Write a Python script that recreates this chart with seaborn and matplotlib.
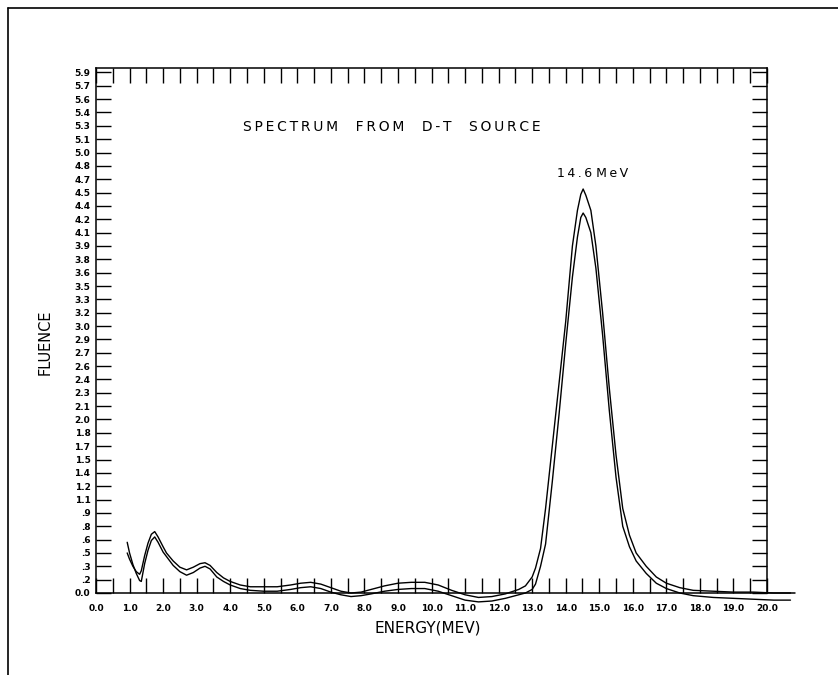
import numpy as np
import matplotlib
matplotlib.use("Agg")
import matplotlib.pyplot as plt
from matplotlib.lines import Line2D
import seaborn as sns

# Values (MeV, fluence)
energy = [0.93, 1.0, 1.1, 1.2, 1.3, 1.35, 1.45, 1.55, 1.65, 1.75, 1.85, 2.0, 2.1, 2.3,
          2.5, 2.7, 2.9, 3.1, 3.25, 3.4, 3.6, 3.8, 4.0, 4.3, 4.6, 5.0, 5.4, 5.8, 6.1,
          6.4, 6.7, 7.0, 7.3, 7.6, 7.9, 8.2, 8.6, 9.0, 9.4, 9.8, 10.2, 10.6, 11.0, 11.4,
          11.8, 12.2, 12.6, 12.8, 13.0, 13.1, 13.25, 13.4, 13.6, 13.8, 14.0, 14.2,
          14.35, 14.45, 14.52, 14.6, 14.75, 14.9, 15.1, 15.3, 15.5, 15.7, 15.9, 16.1,
          16.4, 16.7, 17.0, 17.4, 17.8, 18.4, 19.0, 19.6, 20.2, 20.7]

fluence_outer = [0.45, 0.38, 0.30, 0.24, 0.21, 0.25, 0.42, 0.56, 0.66, 0.69, 0.63, 0.52,
                 0.45, 0.36, 0.29, 0.26, 0.29, 0.33, 0.34, 0.31, 0.23, 0.17, 0.13, 0.09,
                 0.07, 0.07, 0.07, 0.09, 0.11, 0.12, 0.10, 0.06, 0.02, 0.00, 0.01, 0.04,
                 0.08, 0.11, 0.12, 0.12, 0.09, 0.03, -0.02, -0.05, -0.04, -0.01, 0.04,
                 0.08, 0.18, 0.28, 0.50, 0.95, 1.65, 2.35, 3.05, 3.90, 4.30, 4.48, 4.54,
                 4.47, 4.30, 3.90, 3.15, 2.30, 1.55, 0.95, 0.65, 0.45, 0.30, 0.18, 0.11,
                 0.06, 0.03, 0.02, 0.01, 0.01, 0.00, 0.00]

fluence_inner = [0.57, 0.45, 0.32, 0.22, 0.14, 0.13, 0.33, 0.48, 0.59, 0.63, 0.57, 0.46,
                 0.41, 0.31, 0.24, 0.20, 0.23, 0.28, 0.30, 0.27, 0.18, 0.13, 0.09, 0.05,
                 0.03, 0.02, 0.02, 0.04, 0.06, 0.07, 0.05, 0.01, -0.02, -0.04, -0.03,
                 -0.01, 0.02, 0.04, 0.05, 0.05, 0.02, -0.03, -0.08, -0.10, -0.09, -0.06,
                 -0.02, 0.00, 0.04, 0.10, 0.30, 0.55, 1.25, 2.00, 2.80, 3.55, 4.00, 4.22,
                 4.27, 4.22, 4.05, 3.65, 2.90, 2.05, 1.30, 0.75, 0.52, 0.36, 0.22, 0.11,
                 0.05, 0.00, -0.03, -0.05, -0.06, -0.07, -0.08, -0.08]

x_tick_labels = ["0.0", "1.0", "2.0", "3.0", "4.0", "5.0", "6.0", "7.0", "8.0", "9.0",
                 "10.0", "11.0", "12.0", "13.0", "14.0", "15.0", "16.0", "17.0", "18.0",
                 "19.0", "20.0"]
y_tick_labels = ["0.0", ".2", ".3", ".5", ".6", ".8", ".9", "1.1", "1.2", "1.4", "1.5",
                 "1.7", "1.8", "2.0", "2.1", "2.3", "2.4", "2.6", "2.7", "2.9", "3.0",
                 "3.2", "3.3", "3.5", "3.6", "3.8", "3.9", "4.1", "4.2", "4.4", "4.5",
                 "4.7", "4.8", "5.0", "5.1", "5.3", "5.4", "5.6", "5.7", "5.9"]


def spaced(word):
    # plotter lettering is widely spaced
    return "\u2009".join(word)


sns.set_theme(style="white")
plt.rcParams['font.family'] = ['DejaVu Sans']

fig = plt.figure(figsize=(8.38, 6.75), dpi=100)
ax = fig.add_axes([96 / 838, 82 / 675, 671 / 838, 525 / 675])

sns.lineplot(x=energy, y=fluence_outer, ax=ax, color='black', linewidth=1.0,
             sort=False, clip_on=False)
sns.lineplot(x=energy, y=fluence_inner, ax=ax, color='black', linewidth=1.0,
             sort=False, clip_on=False)

ax.set_xlim(0, 20)
ax.set_ylim(0, 5.9)

ax.set_xticks(np.arange(len(x_tick_labels)))
ax.set_xticklabels(x_tick_labels)
ax.set_xticks(np.arange(0.5, 20, 1.0), minor=True)
ax.set_yticks(np.arange(len(y_tick_labels)) * 0.15)
ax.set_yticklabels(y_tick_labels)

ax.tick_params(which='both', direction='in', length=11, width=1.0, color='black',
               top=True, right=True, bottom=True, left=True)
ax.tick_params(axis='x', which='major', pad=8, labelsize=6.5)
ax.tick_params(axis='y', pad=4, labelsize=6.5)
for lbl in ax.get_xticklabels() + ax.get_yticklabels():
    lbl.set_fontweight('bold')
    lbl.set_color('black')

for s in ax.spines.values():
    s.set_visible(True)
    s.set_color('black')
    s.set_linewidth(1.1)

# baseline runs a little past the frame, like on the plotter sheet
ax.axhline(0, xmin=1.0, xmax=1.042, color='black', linewidth=1.1, clip_on=False)

ax.set_xlabel("ENERGY(MEV)", fontsize=11, color='black', va='top')
ax.xaxis.set_label_coords(0.495, -0.053)
ax.set_ylabel("FLUENCE", fontsize=10.5, color='black')
ax.yaxis.set_label_coords(-0.064, 0.478)

ax.text(8.82, 5.24, "    ".join(spaced(w) for w in ["SPECTRUM", "FROM", "D-T", "SOURCE"]),
        fontsize=10, ha='center', va='center', color='black')
ax.text(14.81, 4.72, spaced("14.6") + " " + spaced("MeV"), fontsize=9,
        ha='center', va='center', color='black')

# sheet border (top and left edges only)
fig.add_artist(Line2D([8 / 838, 1.0], [1 - 7.5 / 675] * 2, transform=fig.transFigure,
                      color='black', linewidth=1.2))
fig.add_artist(Line2D([8 / 838] * 2, [0.0, 1 - 7.5 / 675], transform=fig.transFigure,
                      color='black', linewidth=1.2))

fig.savefig("out.png", dpi=100)
